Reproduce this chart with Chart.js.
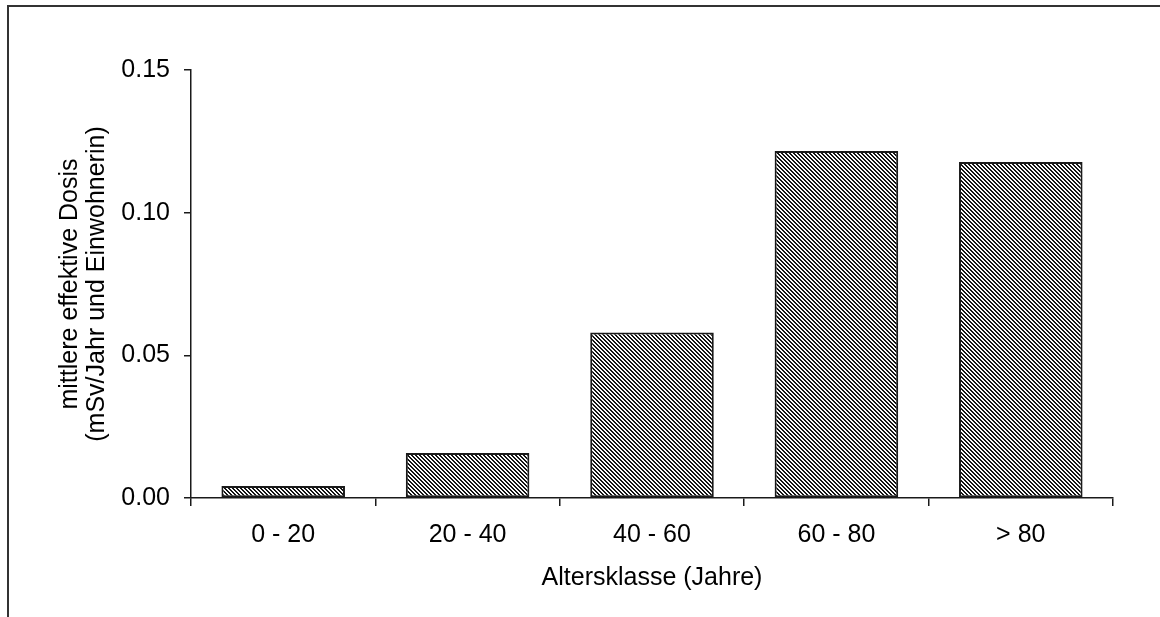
<!DOCTYPE html>
<html>
<head>
<meta charset="utf-8">
<script src="https://cdn.jsdelivr.net/npm/chart.js@4/dist/chart.umd.min.js"></script>
<style>
  html, body { margin: 0; padding: 0; background: #fff; }
  #wrap { position: relative; width: 1160px; height: 617px; overflow: hidden; }
  #frame { position: absolute; left: 7px; top: 5px; width: 1200px; height: 700px;
           border-left: 2px solid #333; border-top: 2px solid #333; pointer-events: none; }
</style>
</head>
<body>
<div id="wrap">
  <canvas id="chart" width="1160" height="617"></canvas>
  <div id="frame"></div>
</div>
<script>
// Altersklassen und mittlere effektive Dosis (mSv/Jahr und Einwohnerin)
var categories = ['0 - 20', '20 - 40', '40 - 60', '60 - 80', '> 80'];
var doseValues = [0.0042, 0.0158, 0.058, 0.1216, 0.1178];
var yTicks = [0, 0.05, 0.10, 0.15];

// diagonale Schraffur wie im Original
function makeHatch() {
  var c = document.createElement('canvas');
  c.width = 4; c.height = 4;
  var g = c.getContext('2d');
  var img = g.createImageData(4, 4);
  for (var y = 0; y < 4; y++) {
    for (var x = 0; x < 4; x++) {
      var i = (y * 4 + x) * 4;
      var dark = ((x - y + 8) % 4) < 2;
      var v = dark ? 20 : 250;
      img.data[i] = v; img.data[i + 1] = v; img.data[i + 2] = v; img.data[i + 3] = 255;
    }
  }
  g.putImageData(img, 0, 0);
  return g.createPattern(c, 'repeat');
}

var ctx = document.getElementById('chart').getContext('2d');
var hatch = makeHatch();

var data = {
  labels: categories,
  datasets: [{
    data: doseValues,
    backgroundColor: hatch,
    borderColor: '#1a1a1a',
    borderWidth: 2,
    borderSkipped: false,
    categoryPercentage: 0.67,
    barPercentage: 1.0
  }]
};

var options = {
  responsive: false,
  animation: false,
  layout: { padding: { top: 70, right: 47, bottom: 0, left: 0 } },
  plugins: {
    legend: { display: false },
    tooltip: { enabled: false }
  },
  scales: {
    x: {
      offset: true,
      afterFit: function (s) { s.height = 119; },
      grid: {
        offset: true,
        drawOnChartArea: false,
        drawTicks: true,
        tickLength: 8,
        color: '#1a1a1a',
        lineWidth: 1.5
      },
      border: { display: true, color: '#1a1a1a', width: 1.5 },
      ticks: {
        color: '#000',
        padding: 14,
        font: { family: 'Liberation Sans', size: 25 },
        maxRotation: 0
      },
      title: {
        display: true,
        text: 'Altersklasse (Jahre)',
        color: '#000',
        font: { family: 'Liberation Sans', size: 25 },
        padding: { top: 0, bottom: 24 }
      }
    },
    y: {
      min: 0,
      max: 0.15,
      afterFit: function (s) { s.width = 191; },
      afterBuildTicks: function (s) {
        s.ticks = yTicks.map(function (v) { return { value: v }; });
      },
      grid: {
        drawOnChartArea: false,
        drawTicks: true,
        tickLength: 7,
        color: '#1a1a1a',
        lineWidth: 1.5
      },
      border: { display: true, color: '#1a1a1a', width: 1.5 },
      ticks: {
        color: '#000',
        padding: 14,
        font: { family: 'Liberation Sans', size: 25 },
        callback: function (v) { return Number(v).toFixed(2); }
      },
      title: {
        display: true,
        text: ['mittlere effektive Dosis', '(mSv/Jahr und Einwohnerin)'],
        color: '#000',
        font: { family: 'Liberation Sans', size: 25, lineHeight: 1.08 },
        padding: { top: 57, bottom: 0 }
      }
    }
  }
};

var config = {
  type: 'bar',
  data: data,
  options: options
};

var chart = new Chart(ctx, config);
</script>
</body>
</html>
